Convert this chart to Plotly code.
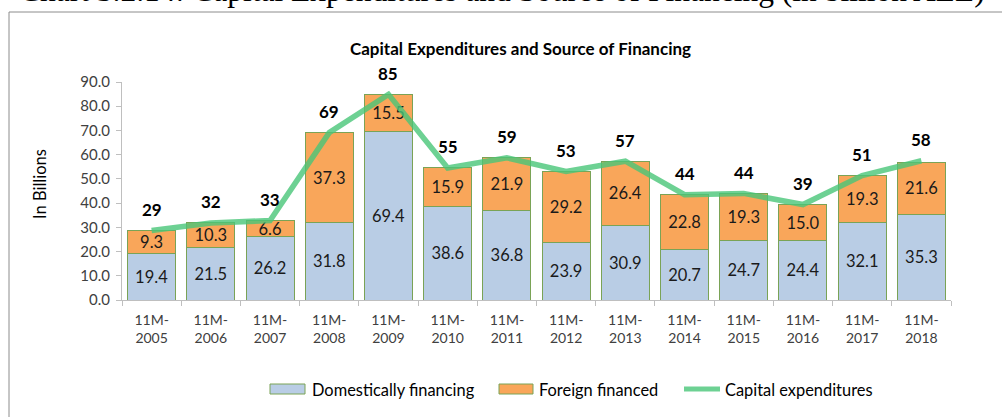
import plotly.graph_objects as go

years = ["2005", "2006", "2007", "2008", "2009", "2010", "2011", "2012",
         "2013", "2014", "2015", "2016", "2017", "2018"]
categories = ["11M-<br>" + y for y in years]
domestic = [19.4, 21.5, 26.2, 31.8, 69.4, 38.6, 36.8, 23.9, 30.9, 20.7, 24.7, 24.4, 32.1, 35.3]
foreign = [9.3, 10.3, 6.6, 37.3, 15.5, 15.9, 21.9, 29.2, 26.4, 22.8, 19.3, 15.0, 19.3, 21.6]
capex = [28.7, 31.8, 32.8, 69.1, 84.9, 54.5, 58.7, 53.1, 57.3, 43.5, 44.0, 39.4, 51.4, 57.5]
capex_labels = ["29", "32", "33", "69", "85", "55", "59", "53", "57", "44", "44", "39", "51", "58"]
series_names = ["Domestically financing", "Foreign financed", "Capital expenditures"]

W, H = 1002, 417
L, R, T, B = 122, 51, 82, 117
pw, ph = W - L - R, H - T - B


def px(x):
    return (x - L) / pw


def py(y):
    return (H - B - y) / ph


FONT = "Lato"
EDGE = "#7AA356"
BLUE = "#B9CDE5"
ORANGE = "#F9A65A"
GREEN = "rgba(72,198,120,0.8)"

fig = go.Figure()
fig.add_trace(go.Bar(
    x=categories, y=domestic, name=series_names[0],
    marker=dict(color=BLUE, line=dict(color=EDGE, width=1)),
    text=[f"{v:.1f}" for v in domestic], textposition="inside",
    insidetextanchor="middle", textangle=0,
    textfont=dict(family=FONT, size=16.5, color="#1a1a1a"),
))
fig.add_trace(go.Bar(
    x=categories, y=foreign, name=series_names[1],
    marker=dict(color=ORANGE, line=dict(color=EDGE, width=1)),
    text=[f"{v:.1f}" for v in foreign], textposition="inside",
    insidetextanchor="middle", textangle=0,
    textfont=dict(family=FONT, size=16.5, color="#1a1a1a"),
))
fig.add_trace(go.Scatter(
    x=categories, y=capex, name=series_names[2], mode="lines",
    line=dict(color=GREEN, width=5.5),
))

annotations = []
for c, v, t in zip(categories, capex, capex_labels):
    annotations.append(dict(
        x=c, y=v, xref="x", yref="y", text="<b>" + t + "</b>",
        showarrow=False, yshift=21,
        font=dict(family=FONT, size=17, color="#000000"),
    ))

annotations.append(dict(
    x=px(40), y=py(184), xref="paper", yref="paper", text="In Billions",
    textangle=-90, showarrow=False, xanchor="center", yanchor="middle",
    font=dict(family=FONT, size=16.5, color="#000000"),
))
annotations.append(dict(
    x=px(520), y=py(48), xref="paper", yref="paper",
    text="<b>Capital Expenditures and Source of Financing</b>",
    showarrow=False, xanchor="center", yanchor="middle",
    font=dict(family=FONT, size=17, color="#000000"),
))
annotations.append(dict(
    x=px(502), y=py(-9), xref="paper", yref="paper",
    text="Chart 3.2.14: Capital Expenditures and Source of Financing (in billion ALL)",
    showarrow=False, xanchor="center", yanchor="middle",
    font=dict(family="Liberation Serif", size=31.5, color="#000000"),
))

# custom legend
legend_text_x = [310, 537, 723]
for name, tx in zip(series_names, legend_text_x):
    annotations.append(dict(
        x=px(tx), y=py(389), xref="paper", yref="paper", text=name,
        showarrow=False, xanchor="left", yanchor="middle",
        font=dict(family=FONT, size=16.4, color="#000000"),
    ))

shapes = [
    dict(type="rect", xref="paper", yref="paper",
         x0=px(9), x1=px(1010), y0=py(430), y1=py(12),
         line=dict(color="#8c8c8c", width=1), fillcolor="rgba(0,0,0,0)",
         layer="below"),
    dict(type="rect", xref="paper", yref="paper",
         x0=px(270), x1=px(305), y0=py(394), y1=py(384),
         line=dict(color=EDGE, width=1), fillcolor=BLUE),
    dict(type="rect", xref="paper", yref="paper",
         x0=px(499), x1=px(533), y0=py(394), y1=py(384),
         line=dict(color=EDGE, width=1), fillcolor=ORANGE),
    dict(type="line", xref="paper", yref="paper",
         x0=px(684), x1=px(720), y0=py(389), y1=py(389),
         line=dict(color=GREEN, width=5)),
]

fig.update_layout(
    width=W, height=H,
    margin=dict(l=L, r=R, t=T, b=B),
    barmode="stack", bargap=0.19,
    plot_bgcolor="white", paper_bgcolor="white",
    font=dict(family=FONT, color="#404040"),
    showlegend=False,
    uniformtext=dict(minsize=16.5, mode="show"),
    annotations=annotations,
    shapes=shapes,
)
fig.update_xaxes(
    showline=True, linecolor="#BFBFBF", linewidth=1,
    ticks="outside", tickson="boundaries", ticklen=5, tickcolor="#BFBFBF",
    tickfont=dict(family=FONT, size=14, color="#404040"),
    ticklabelstandoff=7,
    showgrid=False,
)
fig.update_yaxes(
    range=[0, 90], dtick=10, tickformat=".1f",
    showline=True, linecolor="#BFBFBF", linewidth=1,
    ticks="outside", ticklen=5, tickcolor="#BFBFBF",
    tickfont=dict(family=FONT, size=15, color="#404040"),
    ticklabelstandoff=3,
    showgrid=False, zeroline=False,
)

fig.write_html("out.html", config={"displayModeBar": False},
               post_script="document.body.style.margin='0px';")
